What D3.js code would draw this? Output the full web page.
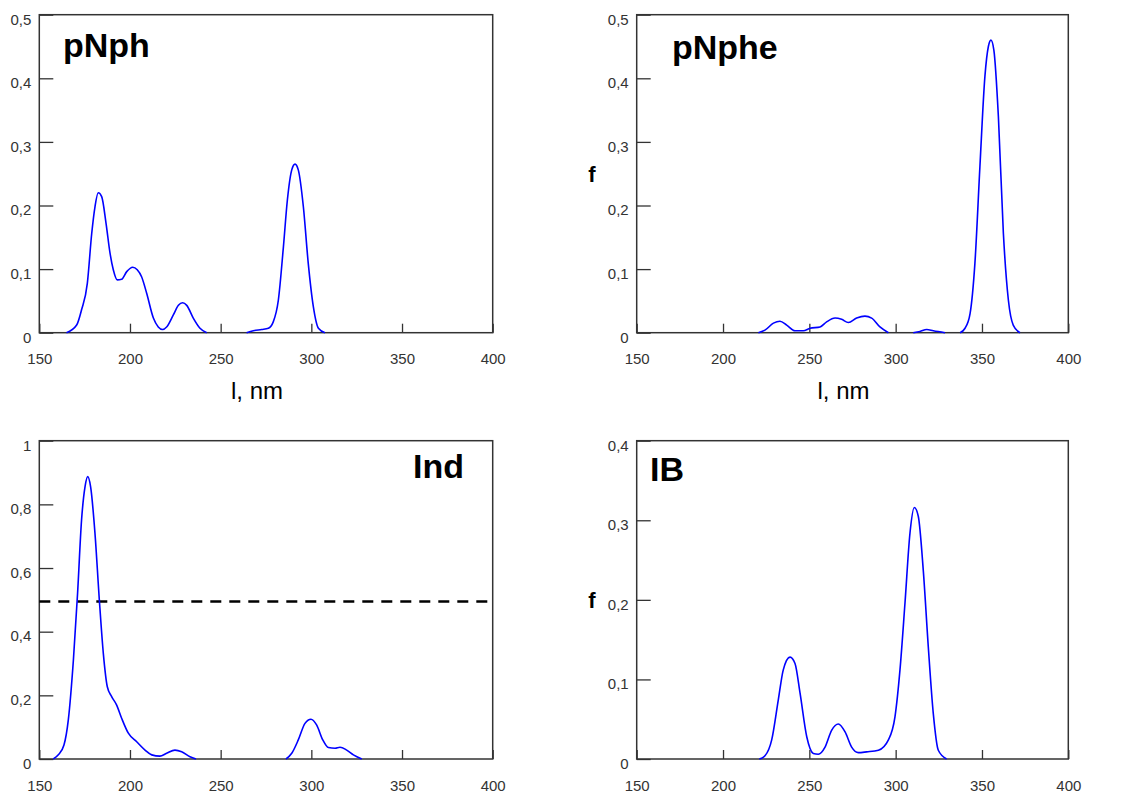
<!DOCTYPE html>
<html lang="en">
<head>
<meta charset="UTF-8">
<title>Spectra</title>
<style>
  body, html { margin: 0; padding: 0; background: #fff; overflow: hidden; }
  svg { display: block; }
  .tick text { font-family: "Liberation Sans", Arial, sans-serif; font-size: 15px; fill: #333; }
  .tick line { stroke: #333; stroke-width: 1.3; }
  .frame { fill: none; stroke: #333; stroke-width: 1.5; }
  .spectrum { fill: none; stroke: #0000ff; stroke-width: 1.6; }
  .name { font-family: "Liberation Sans", Arial, sans-serif; font-weight: bold; font-size: 34px; fill: #000; }
  .ylab { font-family: "Liberation Sans", Arial, sans-serif; font-weight: bold; font-size: 22px; fill: #000; }
  .xlab { font-family: "Liberation Sans", Arial, sans-serif; font-size: 24px; fill: #000; }
</style>
</head>
<body>
<svg width="1127" height="793"></svg>
<script src="https://d3js.org/d3.v7.min.js"></script>
<script>
// wavelength (nm) ticks shared by all panels
const xTicks = [150, 200, 250, 300, 350, 400];

// pNph: null marks a gap in the curve
const pNphWl = [165, 170.6, 173.3, 176.5, 178.9, 180.7, 182.5, 184.4, 186.8, 189, 190.8, 193, 195.4, 198.2, 201.5, 204, 206.4, 209.2, 212.9, 215.6, 218, 220.2, 223.9, 226.7, 229, 231.3, 234.9, 238.6, 242.3, null,
  264.3, 268, 272.6, 276.3, 279, 281.8, 284.6, 286.8, 289.2, 291, 292.8, 295.6, 298.3, 301.1, 303.9, 307.5];
const pNphF = [0, 0.012, 0.036, 0.078, 0.156, 0.198, 0.22, 0.214, 0.172, 0.125, 0.099, 0.083, 0.084, 0.096, 0.103, 0.099, 0.088, 0.062, 0.023, 0.009, 0.005, 0.009, 0.028, 0.043, 0.047, 0.043, 0.023, 0.007, 0, null,
  0, 0.003, 0.005, 0.007, 0.017, 0.051, 0.135, 0.209, 0.256, 0.265, 0.256, 0.198, 0.109, 0.041, 0.007, 0];
const pNphTicks = [0, 0.1, 0.2, 0.3, 0.4, 0.5];

// pNphe
const pNpheWl = [220.5, 224.3, 229.2, 233, 236.9, 241.7, 246.5, 250.4, 256.2, 260, 264.9, 268.7, 272.6, 277.4, 282.2, 286.1, 290.9, 295.8, null,
  310.2, 314.1, 318, 321.8, 328.6, null,
  337.3, 340.2, 343.1, 345.9, 348.8, 351.7, 353.7, 355.2, 356.9, 359.5, 362.4, 365.3, 368.1, 372];
const pNpheF = [0, 0.004, 0.015, 0.018, 0.012, 0.003, 0.003, 0.007, 0.009, 0.017, 0.023, 0.021, 0.016, 0.023, 0.026, 0.023, 0.009, 0, null,
  0, 0.002, 0.005, 0.003, 0, null,
  0, 0.007, 0.03, 0.109, 0.261, 0.403, 0.45, 0.46, 0.444, 0.34, 0.156, 0.051, 0.012, 0];
const pNpheTicks = [0, 0.1, 0.2, 0.3, 0.4, 0.5];

// Ind
const indWl = [157.7, 160.5, 163.6, 166, 168.8, 171.1, 173.3, 175.2, 176.7, 178.3, 180.7, 183.1, 185.3, 187.5, 189.9, 192.6, 195.4, 199.1, 203.7, 208.3, 212, 216.5, 220.2, 224.8, 228.5, 233.1, 236.4, null,
  286, 289.2, 292.8, 296.5, 299.8, 302.9, 306.3, 309.4, 313.1, 315.8, 319.5, 323.2, 327.8];
const indF = [0, 0.013, 0.044, 0.123, 0.311, 0.52, 0.751, 0.855, 0.887, 0.855, 0.709, 0.5, 0.332, 0.227, 0.196, 0.17, 0.128, 0.081, 0.054, 0.028, 0.013, 0.009, 0.018, 0.028, 0.023, 0.007, 0, null,
  0, 0.018, 0.06, 0.112, 0.125, 0.107, 0.06, 0.036, 0.034, 0.037, 0.028, 0.013, 0];
const indTicks = [0, 0.2, 0.4, 0.6, 0.8, 1];
const indThreshold = 0.495;

// IB
const ibWl = [221, 224.3, 228.2, 232, 234.9, 238.8, 241.7, 244.6, 248.5, 252.3, 255.2, 259.1, 262.9, 266.8, 270.7, 274.5, 278.4, 283.2, 290, 295.8, 299.6, 302.5, 305.4, 308.3, 310.8, 313.1, 316, 318.9, 321.8, 324.7, 329.5];
const ibF = [0, 0.004, 0.024, 0.074, 0.112, 0.128, 0.12, 0.083, 0.028, 0.007, 0.006, 0.015, 0.036, 0.044, 0.034, 0.015, 0.008, 0.009, 0.011, 0.024, 0.053, 0.112, 0.196, 0.284, 0.316, 0.305, 0.237, 0.141, 0.057, 0.011, 0];
const ibTicks = [0, 0.1, 0.2, 0.3, 0.4];

const svg = d3.select("svg");
const fmt = d => d3.format("~g")(d).replace(".", ",");

const panels = [
  { name: "pNph", wl: pNphWl, f: pNphF, ticks: pNphTicks, box: [39.3, 14.7, 492.7, 332.7], nameAt: [63, 57], xlab: true },
  { name: "pNphe", wl: pNpheWl, f: pNpheF, ticks: pNpheTicks, box: [636.7, 14.7, 1068.3, 332.7], nameAt: [672, 58.5], xlab: true, ylab: true },
  { name: "Ind", wl: indWl, f: indF, ticks: indTicks, box: [39.3, 440.7, 492.7, 759], nameAt: [413, 478], threshold: indThreshold },
  { name: "IB", wl: ibWl, f: ibF, ticks: ibTicks, box: [636.7, 440.7, 1068.3, 759], nameAt: [650, 481], ylab: true }
];

panels.forEach(p => {
  const [x0, y0, x1, y1] = p.box;
  const x = d3.scaleLinear().domain([150, 400]).range([x0, x1]);
  const y = d3.scaleLinear().domain([0, d3.max(p.ticks)]).range([y1, y0]);
  const g = svg.append("g");

  // x axis, ticks pointing inward
  const gx = g.append("g")
    .attr("transform", `translate(0,${y1})`)
    .call(d3.axisBottom(x).tickValues(xTicks).tickSize(-9).tickSizeOuter(0).tickPadding(21));
  gx.select(".domain").remove();

  // y axis, ticks pointing inward
  const gy = g.append("g")
    .attr("transform", `translate(${x0},0)`)
    .call(d3.axisLeft(y).tickValues(p.ticks).tickFormat(fmt).tickSize(-14).tickSizeOuter(0).tickPadding(8));
  gy.select(".domain").remove();
  gy.selectAll("text").attr("dy", "0.62em");

  g.append("rect").attr("class", "frame")
    .attr("x", x0).attr("y", y0).attr("width", x1 - x0).attr("height", y1 - y0);

  if (p.threshold !== undefined) {
    g.append("line")
      .attr("x1", x0).attr("x2", x1)
      .attr("y1", y(p.threshold)).attr("y2", y(p.threshold))
      .attr("stroke", "#000").attr("stroke-width", 2.6)
      .attr("stroke-dasharray", "11,8");
  }

  const pts = p.wl.map((w, i) => ({ w: w, f: p.f[i] }));
  const line = d3.line()
    .defined(d => d.w !== null && d.f !== null)
    .x(d => x(d.w)).y(d => y(d.f))
    .curve(d3.curveMonotoneX);
  g.append("path").attr("class", "spectrum").attr("d", line(pts));

  g.append("text").attr("class", "name")
    .attr("x", p.nameAt[0]).attr("y", p.nameAt[1]).text(p.name);

  if (p.xlab) {
    g.append("text").attr("class", "xlab")
      .attr("x", (x0 + x1) / 2 - 9).attr("y", 399)
      .attr("text-anchor", "middle").text("l, nm");
  }
  if (p.ylab) {
    g.append("text").attr("class", "ylab")
      .attr("x", 592).attr("y", (y0 + y1) / 2 + 8)
      .attr("text-anchor", "middle").text("f");
  }
});
</script>
</body>
</html>
